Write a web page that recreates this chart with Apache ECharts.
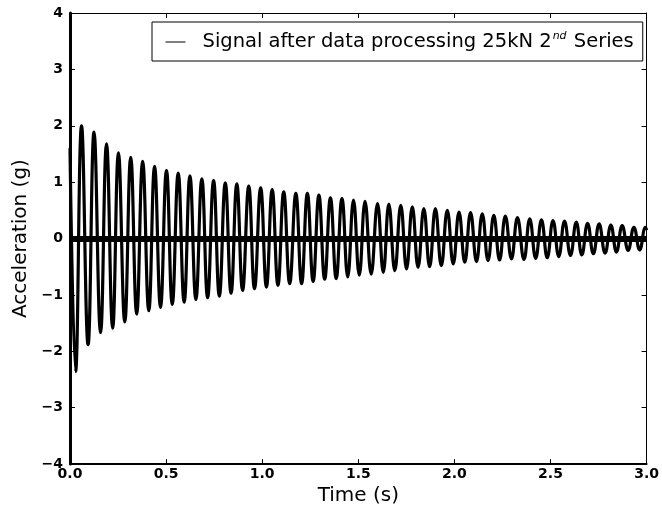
<!DOCTYPE html>
<html>
<head>
<meta charset="utf-8">
<script src="https://cdn.jsdelivr.net/npm/echarts@6/dist/echarts.min.js"></script>
<style>
html,body{margin:0;padding:0;background:#fff;}
#c{width:662px;height:511px;}
</style>
</head>
<body>
<div id="c"></div>
<script>
// ---- Data ----
const xTicks = [0.0, 0.5, 1.0, 1.5, 2.0, 2.5, 3.0];
const yTicks = [-4, -3, -2, -1, 0, 1, 2, 3, 4];
const seriesName = 'Signal after data processing 25kN 2nd Series';

// start / end samples
const startTime = 0.0, startValue = 1.6;
const endTime = 3.0, endValue = 0.15;

// local maxima of the signal (time s, acceleration g)
const peakTimes = [0.060,0.125,0.190,0.252,0.316,0.378,0.440,0.502,0.563,0.624,0.686,0.747,0.808,0.868,0.930,0.992,
  1.052,1.112,1.175,1.235,1.295,1.355,1.415,1.475,1.535,1.600,1.659,1.721,1.781,1.841,1.901,1.963,
  2.024,2.084,2.145,2.205,2.265,2.328,2.392,2.453,2.513,2.573,2.634,2.693,2.753,2.814,2.873,2.934,2.994];
const peakValues = [2.00,1.89,1.68,1.52,1.44,1.37,1.28,1.21,1.16,1.11,1.06,1.03,0.99,0.97,0.93,0.90,
  0.87,0.83,0.80,0.80,0.77,0.72,0.71,0.68,0.66,0.62,0.61,0.59,0.56,0.53,0.53,0.50,
  0.47,0.46,0.44,0.41,0.40,0.37,0.35,0.33,0.32,0.31,0.29,0.27,0.26,0.24,0.23,0.20,0.20];

// local minima of the signal
const troughTimes = [0.029,0.094,0.159,0.222,0.285,0.347,0.410,0.471,0.532,0.594,0.655,0.716,0.777,0.838,0.898,0.960,
  1.022,1.082,1.143,1.205,1.265,1.325,1.385,1.445,1.505,1.567,1.630,1.690,1.751,1.811,1.871,1.932,
  1.994,2.054,2.115,2.175,2.235,2.297,2.362,2.423,2.483,2.543,2.604,2.663,2.723,2.784,2.843,2.904,2.964];
const troughValues = [-2.36,-1.88,-1.67,-1.59,-1.48,-1.34,-1.28,-1.22,-1.17,-1.13,-1.08,-1.05,-1.02,-0.97,-0.92,-0.89,
  -0.86,-0.83,-0.80,-0.80,-0.76,-0.72,-0.71,-0.68,-0.65,-0.63,-0.60,-0.57,-0.54,-0.51,-0.50,-0.48,
  -0.45,-0.42,-0.41,-0.39,-0.38,-0.36,-0.37,-0.35,-0.34,-0.32,-0.30,-0.29,-0.27,-0.26,-0.24,-0.21,-0.20];

// ---- build the series ----
const pts = [[startTime, startValue]];
for (let i = 0; i < peakTimes.length; i++) pts.push([peakTimes[i], peakValues[i]]);
for (let i = 0; i < troughTimes.length; i++) pts.push([troughTimes[i], troughValues[i]]);
pts.push([endTime, endValue]);
pts.sort((a, b) => a[0] - b[0]);

const FONT = 'DejaVu Sans';
const fmtY = v => (v < 0 ? '\u2212' + Math.abs(v) : String(v));
const fmtX = v => Number(v).toFixed(1);

const chart = echarts.init(document.getElementById('c'), null, {renderer: 'canvas'});
const tickCommon = {show: true, inside: true, length: 5, lineStyle: {color: '#000', width: 1}};
chart.setOption({
  backgroundColor: '#fff',
  animation: false,
  grid: {left: 70, right: 9, top: 13, bottom: 46, containLabel: false},
  legend: {
    show: true,
    left: 152, top: 22,
    padding: [9, 9, 9, 13],
    borderColor: '#000', borderWidth: 1, borderRadius: 0,
    backgroundColor: '#fff',
    itemWidth: 20, itemHeight: 14,
    lineStyle: {width: 1, color: '#000'},
    itemStyle: {opacity: 0},
    formatter: () => '{t|Signal after data processing 25kN 2}{s|nd}{t| Series}',
    textStyle: {
      padding: [0, 0, 0, 12],
      rich: {
        t: {fontFamily: FONT, fontSize: 19.5, color: '#000', lineHeight: 22},
        s: {fontFamily: FONT, fontSize: 11, fontStyle: 'italic', color: '#000', verticalAlign: 'top', lineHeight: 22, padding: [0, 1, 10, 1]}
      }
    },
    data: [seriesName]
  },
  xAxis: [{
    type: 'value', min: 0, max: 3, interval: 0.5, position: 'bottom',
    name: 'Time (s)', nameLocation: 'middle', nameGap: 19,
    nameTextStyle: {fontFamily: FONT, fontSize: 20, color: '#000'},
    axisLine: {show: true, onZero: false, lineStyle: {color: '#000', width: 2}},
    axisTick: tickCommon,
    axisLabel: {fontFamily: FONT, fontSize: 14, fontWeight: 'bold', color: '#000', margin: 3, formatter: fmtX},
    splitLine: {show: false}
  }, {
    type: 'value', min: 0, max: 3, interval: 0.5, position: 'top',
    axisLine: {show: true, onZero: false, lineStyle: {color: '#000', width: 1}},
    axisTick: tickCommon, axisLabel: {show: false}, splitLine: {show: false}
  }],
  yAxis: [{
    type: 'value', min: -4, max: 4, interval: 1, position: 'left',
    name: 'Acceleration (g)', nameLocation: 'middle', nameGap: 37,
    nameTextStyle: {fontFamily: FONT, fontSize: 20, color: '#000'},
    axisLine: {show: true, onZero: false, lineStyle: {color: '#000', width: 3}},
    axisTick: tickCommon,
    axisLabel: {fontFamily: FONT, fontSize: 14, fontWeight: 'bold', color: '#000', margin: 7, formatter: fmtY},
    splitLine: {show: false}
  }, {
    type: 'value', min: -4, max: 4, interval: 1, position: 'right',
    axisLine: {show: true, onZero: false, lineStyle: {color: '#000', width: 1}},
    axisTick: tickCommon, axisLabel: {show: false}, splitLine: {show: false}
  }],
  series: [{
    name: seriesName,
    type: 'line',
    data: pts,
    xAxisIndex: 0, yAxisIndex: 0,
    showSymbol: false, symbol: 'none',
    smooth: 0.45,
    lineStyle: {color: '#000', width: 3.2},
    itemStyle: {color: '#000'},
    clip: true,
    markLine: {
      silent: true, symbol: ['none', 'none'],
      label: {show: false},
      lineStyle: {color: '#000', width: 6, type: 'solid'},
      data: [{yAxis: 0}]
    }
  }]
});
</script>
</body>
</html>
